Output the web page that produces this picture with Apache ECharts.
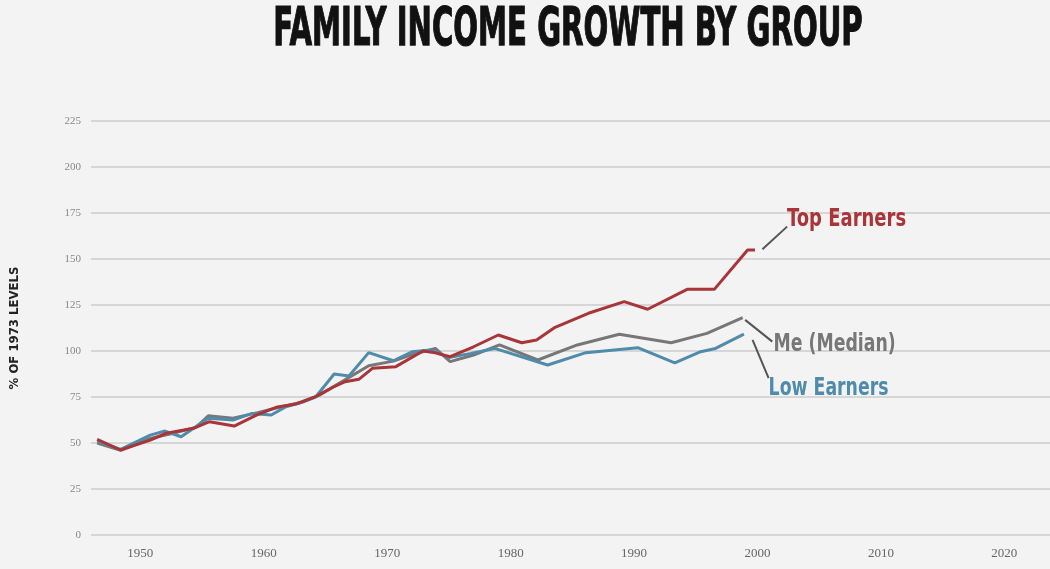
<!DOCTYPE html>
<html>
<head>
<meta charset="utf-8">
<script src="https://cdn.jsdelivr.net/npm/echarts@6/dist/echarts.min.js"></script>
<style>
  html, body { margin: 0; padding: 0; background: #f3f3f3; }
  #chart { width: 1050px; height: 569px; }
</style>
</head>
<body>
<div id="chart"></div>
<script>
// values, % of 1973 levels
const topYears = [1946.5, 1948.4, 1950.8, 1952.1, 1954.3, 1955.6, 1957.6, 1959.4, 1961, 1962.6, 1964.2, 1965.6, 1966.6, 1967.7, 1968.8, 1970.7, 1972.9, 1973.9, 1975.1, 1977, 1979, 1980.9, 1982.1, 1983.6, 1986.3, 1989.2, 1991.1, 1994.3, 1996.5, 1999.2, 1999.8];
const topValues = [52, 46.2, 51.6, 55.3, 58, 61.6, 59.2, 65.2, 69.4, 71.2, 75.2, 80.3, 83.3, 84.6, 90.6, 91.5, 100, 99, 96.9, 102.3, 108.7, 104.5, 106, 112.9, 120.5, 126.8, 122.7, 133.5, 133.5, 154.9, 154.9];

const medYears = [1946.5, 1948.4, 1950.8, 1952.5, 1954.5, 1955.5, 1957.5, 1959.5, 1961, 1963, 1964.5, 1966, 1968.5, 1970.5, 1972, 1973.9, 1975.1, 1977, 1979.1, 1982.2, 1985.4, 1988.8, 1993, 1995.9, 1998.8];
const medValues = [50, 46, 52.5, 55, 58.5, 64.8, 63.5, 66.5, 69, 72, 76, 82, 92, 94.5, 98, 101.4, 94.2, 97.8, 103.3, 95.1, 103.3, 109.1, 104.5, 109.6, 118.1];

const lowYears = [1946.5, 1948.4, 1950.8, 1952, 1953.3, 1955.5, 1957.5, 1959, 1960.6, 1961.8, 1963.2, 1964.2, 1965.7, 1966.9, 1968.5, 1970.5, 1972, 1973.5, 1975, 1976.8, 1978.7, 1983, 1986.1, 1990.3, 1993.3, 1995.4, 1996.6, 1998.9];
const lowValues = [51, 46.5, 54.3, 56.5, 53.4, 63.4, 62.5, 66, 65.2, 69.7, 72.4, 75, 87.5, 86.4, 99.1, 94.7, 99.6, 100.5, 96.5, 98.7, 101.4, 92.4, 99.1, 101.8, 93.6, 99.6, 101.4, 109.2];

// callouts: [label, leader start, leader end, text anchor]
const topCallout = ['Top Earners', [2000.4, 155.3], [2002.4, 167.6], [2002.4, 171.2]];
const medCallout = ['Me (Median)', [1999.0, 116.9], [2001.2, 105.1], [2001.3, 103.3]];
const lowCallout = ['Low Earners', [1999.6, 106], [2000.9, 85.2], [2000.9, 79.4]];

const condensed = "'DejaVu Sans Condensed', 'Liberation Sans Narrow', sans-serif";
const serif = "'Liberation Serif', 'DejaVu Serif', serif";

const colors = { top: '#a93538', med: '#777777', low: '#4f8cab' };

function pairs(xs, ys) {
    return xs.map((x, i) => [x, ys[i]]);
}

function lineSeries(name, xs, ys, color, callout) {
    return {
        name: name,
        type: 'line',
        data: pairs(xs, ys),
        symbol: 'none',
        lineStyle: { color: color, width: 3 },
        silent: true,
        markLine: {
            silent: true,
            symbol: 'none',
            label: { show: false },
            lineStyle: { color: '#555', width: 2, type: 'solid' },
            data: [[{ coord: callout[1] }, { coord: callout[2] }]]
        }
    };
}

let myChart = echarts.init(document.getElementById('chart'));

let option = {
    backgroundColor: '#f3f3f3',
    animation: false,
    grid: {
        left: 87,
        right: 0,
        top: 121,
        bottom: 34
    },
    xAxis: {
        type: 'value',
        min: 1946,
        max: 2023.7,
        interval: 2,
        axisLine: { show: false },
        axisTick: { show: false },
        splitLine: { show: false },
        axisLabel: {
            margin: 12,
            color: '#666',
            fontFamily: serif,
            fontSize: 13,
            showMinLabel: false,
            showMaxLabel: false,
            formatter: function (v) {
                return v % 10 === 0 ? String(v) : '';
            }
        }
    },
    yAxis: {
        type: 'value',
        min: 0,
        max: 225,
        interval: 25,
        name: '% OF 1973 LEVELS',
        nameLocation: 'middle',
        nameRotate: 90,
        nameGap: 70,
        nameTextStyle: {
            fontFamily: condensed,
            fontWeight: 'bold',
            fontSize: 13,
            color: '#222'
        },
        axisLine: { show: false },
        axisTick: { show: false },
        axisLabel: {
            margin: 10,
            color: '#888',
            fontFamily: serif,
            fontSize: 11
        },
        splitLine: {
            lineStyle: { color: '#cdcdcd', width: 1.5 }
        }
    },
    series: [
        lineSeries('Me (Median)', medYears, medValues, colors.med, medCallout),
        lineSeries('Low Earners', lowYears, lowValues, colors.low, lowCallout),
        lineSeries('Top Earners', topYears, topValues, colors.top, topCallout)
    ]
};

myChart.setOption(option);

// condensed title and callout labels (narrow face imitated with scaleX)
function calloutText(callout, color, sx) {
    let p = myChart.convertToPixel({ gridIndex: 0 }, callout[3]);
    return {
        type: 'text',
        x: p[0],
        y: p[1],
        scaleX: sx,
        silent: true,
        style: {
            text: callout[0],
            x: 0,
            y: 0,
            textAlign: 'left',
            textVerticalAlign: 'middle',
            fill: color,
            font: "bold 25px " + condensed
        }
    };
}

myChart.setOption({
    graphic: [
        {
            type: 'text',
            x: 568,
            y: 31,
            scaleX: 0.6,
            silent: true,
            style: {
                text: 'FAMILY INCOME GROWTH BY GROUP',
                x: 0,
                y: 0,
                textAlign: 'center',
                textVerticalAlign: 'middle',
                fill: '#111',
                stroke: '#111',
                lineWidth: 1.2,
                font: "bold 54px " + condensed
            }
        },
        calloutText(topCallout, colors.top, 0.8),
        calloutText(medCallout, colors.med, 0.77),
        calloutText(lowCallout, colors.low, 0.77)
    ]
});
</script>
</body>
</html>
